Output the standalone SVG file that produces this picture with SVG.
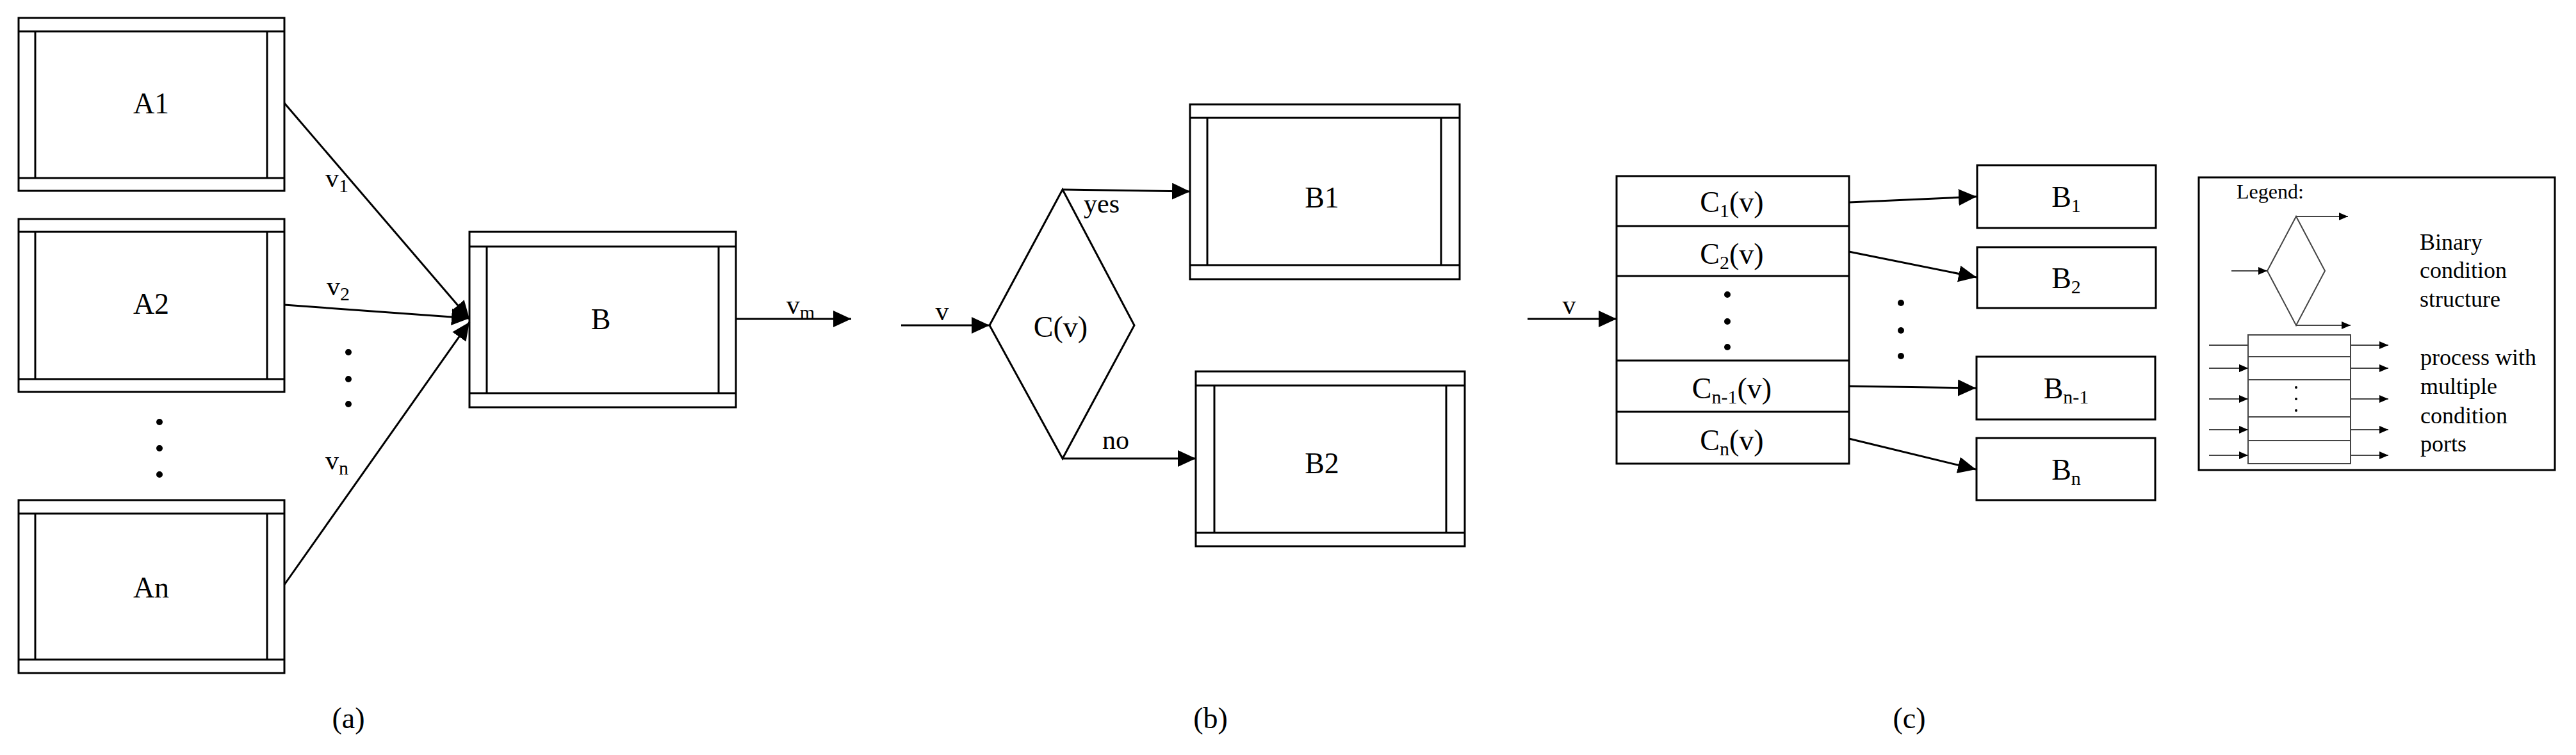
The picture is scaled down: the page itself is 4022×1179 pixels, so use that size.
<svg xmlns="http://www.w3.org/2000/svg" width="4022" height="1179" viewBox="0 0 4022 1179">
<style>
.b{fill:#fff;stroke:#000;stroke-width:3}
.l{fill:none;stroke:#000;stroke-width:3}
.t{font-family:"Liberation Serif",serif;font-size:46px;fill:#000;text-anchor:middle}
.s{font-size:30px}
.g{fill:none;stroke:#444;stroke-width:2}
.lt{font-family:"Liberation Serif",serif;font-size:36px;fill:#000}
.d{fill:#000}
</style>
<defs>
<marker id="ah" markerUnits="userSpaceOnUse" markerWidth="30" markerHeight="28" refX="28" refY="13" orient="auto"><path d="M0,0 L28,13 L0,26 z" fill="#000"/></marker>
<marker id="as" markerUnits="userSpaceOnUse" markerWidth="16" markerHeight="14" refX="14" refY="6" orient="auto"><path d="M0,0 L14,6 L0,12 z" fill="#000"/></marker>
</defs>
<rect width="4022" height="1179" fill="#fff"/>

<g id="A1"><rect class="b" x="29" y="28" width="415" height="270"/><path class="l" d="M29,49H444M29,278H444M55,49V278M417,49V278"/><text class="t" x="236" y="177">A1</text></g>
<g id="A2"><rect class="b" x="29" y="342" width="415" height="270"/><path class="l" d="M29,362H444M29,592H444M55,362V592M417,362V592"/><text class="t" x="236" y="490">A2</text></g>
<g id="An"><rect class="b" x="29" y="781" width="415" height="270"/><path class="l" d="M29,802H444M29,1030H444M55,802V1030M417,802V1030"/><text class="t" x="236" y="933">An</text></g>
<g id="B"><rect class="b" x="733" y="362" width="416" height="274"/><path class="l" d="M733,385H1149M733,614H1149M760,385V614M1122,385V614"/><text class="t" x="938" y="514">B</text></g>
<g id="C"><polygon class="b" points="1545,508 1659,296 1771,508 1659,716"/><text class="t" x="1656" y="526">C(v)</text></g>
<g id="B1"><rect class="b" x="1858" y="163" width="421" height="273"/><path class="l" d="M1858,184H2279M1858,414H2279M1885,184V414M2250,184V414"/><text class="t" x="2064" y="324">B1</text></g>
<g id="B2"><rect class="b" x="1867" y="580" width="420" height="273"/><path class="l" d="M1867,602H2287M1867,832H2287M1896,602V832M2258,602V832"/><text class="t" x="2064" y="739">B2</text></g>
<g id="Cstack"><rect class="b" x="2524" y="275" width="363" height="449"/><path class="l" d="M2524,353H2887M2524,431H2887M2524,563H2887M2524,643H2887"/>
<text class="t" x="2704" y="331">C<tspan class="s" dy="8">1</tspan><tspan dy="-8">(v)</tspan></text>
<text class="t" x="2704" y="412">C<tspan class="s" dy="8">2</tspan><tspan dy="-8">(v)</tspan></text>
<circle class="d" cx="2697" cy="460" r="5"/><circle class="d" cx="2697" cy="502" r="5"/><circle class="d" cx="2697" cy="542" r="5"/>
<text class="t" x="2704" y="622">C<tspan class="s" dy="8">n-1</tspan><tspan dy="-8">(v)</tspan></text>
<text class="t" x="2704" y="703">C<tspan class="s" dy="8">n</tspan><tspan dy="-8">(v)</tspan></text></g>
<g id="Bs1"><rect class="b" x="3087" y="258" width="279" height="98"/><text class="t" x="3226" y="323">B<tspan class="s" dy="8">1</tspan></text></g>
<g id="Bs2"><rect class="b" x="3087" y="386" width="279" height="95"/><text class="t" x="3226" y="450">B<tspan class="s" dy="8">2</tspan></text></g>
<g id="Bsn1"><rect class="b" x="3086" y="557" width="279" height="98"/><text class="t" x="3226" y="622">B<tspan class="s" dy="8">n-1</tspan></text></g>
<g id="Bsn"><rect class="b" x="3086" y="684" width="279" height="97"/><text class="t" x="3226" y="749">B<tspan class="s" dy="8">n</tspan></text></g>

<g id="connectors">
<path class="l" marker-end="url(#ah)" d="M444,161L733,498"/>
<path class="l" marker-end="url(#ah)" d="M444,476L733,497"/>
<path class="l" marker-end="url(#ah)" d="M444,913L733,503"/>
<path class="l" marker-end="url(#ah)" d="M1149,498H1329"/>
<path class="l" marker-end="url(#ah)" d="M1407,508H1545"/>
<path class="l" marker-end="url(#ah)" d="M1659,296L1858,299"/>
<path class="l" marker-end="url(#ah)" d="M1659,716H1867"/>
<path class="l" marker-end="url(#ah)" d="M2385,498H2524"/>
<path class="l" marker-end="url(#ah)" d="M2887,316L3086,307"/>
<path class="l" marker-end="url(#ah)" d="M2887,393L3086,433"/>
<path class="l" marker-end="url(#ah)" d="M2887,603L3085,606"/>
<path class="l" marker-end="url(#ah)" d="M2887,685L3085,733"/>
</g>
<g id="labels">
<text class="t" x="526" y="292" style="font-size:42px">v<tspan class="s" dy="8">1</tspan></text>
<text class="t" x="528" y="461" style="font-size:42px">v<tspan class="s" dy="8">2</tspan></text>
<text class="t" x="526" y="733" style="font-size:42px">v<tspan class="s" dy="8">n</tspan></text>
<text class="t" x="1250" y="490" style="font-size:42px">v<tspan class="s" dy="8">m</tspan></text>
<text class="t" x="1471" y="500" style="font-size:42px">v</text>
<text class="t" x="1720" y="332" style="font-size:42px">yes</text>
<text class="t" x="1742" y="701" style="font-size:42px">no</text>
<text class="t" x="2450" y="490" style="font-size:42px">v</text>
<circle class="d" cx="544" cy="550" r="5"/><circle class="d" cx="544" cy="592" r="5"/><circle class="d" cx="544" cy="631" r="5"/>
<circle class="d" cx="249" cy="659" r="5"/><circle class="d" cx="249" cy="700" r="5"/><circle class="d" cx="249" cy="741" r="5"/>
<circle class="d" cx="2968" cy="473" r="5"/><circle class="d" cx="2968" cy="516" r="5"/><circle class="d" cx="2968" cy="556" r="5"/>
<text class="t" x="544" y="1137">(a)</text>
<text class="t" x="1890" y="1137">(b)</text>
<text class="t" x="2981" y="1137">(c)</text>
</g>

<g id="legend">
<rect x="3433" y="277" width="556" height="457" fill="#fff" stroke="#000" stroke-width="3"/>
<text class="lt" x="3492" y="310" style="font-size:32px">Legend:</text>
<polygon class="g" points="3540,423 3585,338 3630,423 3585,508"/>
<path class="g" marker-end="url(#as)" d="M3484,423H3540"/>
<path class="g" marker-end="url(#as)" d="M3585,338H3666"/>
<path class="g" marker-end="url(#as)" d="M3585,508H3670"/>
<text class="lt" x="3778" y="390">Binary</text>
<text class="lt" x="3778" y="434">condition</text>
<text class="lt" x="3778" y="479">structure</text>
<rect class="g" x="3510" y="523" width="160" height="201"/>
<path class="g" d="M3510,557H3670M3510,593H3670M3510,651H3670M3510,688H3670"/>
<circle class="d" cx="3585" cy="605" r="2"/><circle class="d" cx="3585" cy="623" r="2"/><circle class="d" cx="3585" cy="641" r="2"/>
<path class="g" marker-end="url(#as)" d="M3449,539H3510M3449,575H3510"/>
<path class="g" marker-end="url(#as)" d="M3449,575H3510"/>
<path class="g" marker-end="url(#as)" d="M3449,623H3510"/>
<path class="g" marker-end="url(#as)" d="M3449,671H3510"/>
<path class="g" marker-end="url(#as)" d="M3449,711H3510"/>
<path class="g" marker-end="url(#as)" d="M3670,539H3729"/>
<path class="g" marker-end="url(#as)" d="M3670,575H3729"/>
<path class="g" marker-end="url(#as)" d="M3670,623H3729"/>
<path class="g" marker-end="url(#as)" d="M3670,671H3729"/>
<path class="g" marker-end="url(#as)" d="M3670,711H3729"/>
<text class="lt" x="3779" y="570">process with</text>
<text class="lt" x="3779" y="615">multiple</text>
<text class="lt" x="3779" y="661">condition</text>
<text class="lt" x="3779" y="705">ports</text>
</g>
</svg>
